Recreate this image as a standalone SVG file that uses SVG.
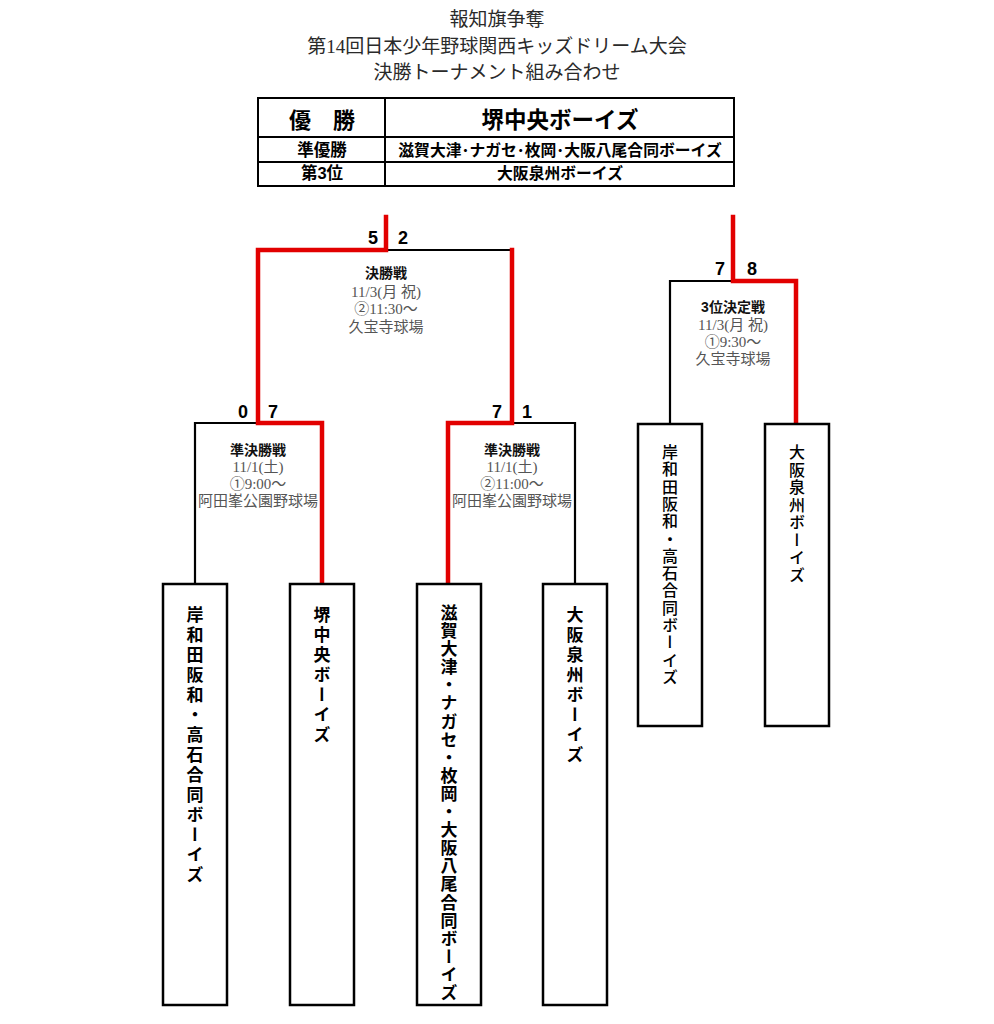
<svg xmlns="http://www.w3.org/2000/svg" width="994" height="1024" viewBox="0 0 994 1024">
<style>
.title{font-family:"Liberation Serif","Noto Sans CJK JP",serif;font-size:19px;fill:#2a2a2a;text-anchor:middle}
.tb{font-family:"Liberation Sans","Noto Sans CJK JP",sans-serif;font-weight:bold;fill:#000;text-anchor:middle}
.cell{fill:#fff;stroke:#000;stroke-width:2}
.lbl{font-family:"Liberation Sans","Noto Sans CJK JP",sans-serif;font-weight:bold;font-size:14px;fill:#111;text-anchor:middle}
.info{font-family:"Liberation Serif","Noto Sans CJK JP",serif;font-size:15px;fill:#555;text-anchor:middle}
.score{font-family:"Liberation Sans",sans-serif;font-weight:bold;font-size:18px;fill:#000;text-anchor:middle}
.blk{fill:none;stroke:#000;stroke-width:2.2}
.red{fill:none;stroke:#e20000;stroke-width:4.5;stroke-linejoin:miter;stroke-linecap:square}
.box{fill:#fff;stroke:#000;stroke-width:2.5}
.vt{font-family:"Noto Sans CJK JP",sans-serif;font-weight:bold;font-size:17px;fill:#000;writing-mode:vertical-rl}
.vt2{font-family:"Noto Sans CJK JP",sans-serif;font-weight:500;font-size:16px;fill:#000;writing-mode:vertical-rl}
</style>
<rect width="994" height="1024" fill="#fff"/>
<g id="title">
<text class="title" x="497" y="26">報知旗争奪</text>
<text class="title" x="497" y="53">第14回日本少年野球関西キッズドリーム大会</text>
<text class="title" x="497" y="79">決勝トーナメント組み合わせ</text>
</g>
<g id="results-table">
<rect class="cell" x="258" y="98" width="476" height="88"/>
<line class="cell" x1="385" y1="98" x2="385" y2="186"/>
<line class="cell" x1="258" y1="137" x2="734" y2="137"/>
<line class="cell" x1="258" y1="162" x2="734" y2="162"/>
<text class="tb" x="322" y="128" font-size="22">優　勝</text>
<text class="tb" x="560" y="128" font-size="22.5">堺中央ボーイズ</text>
<text class="tb" x="322" y="156" font-size="16.5">準優勝</text>
<text class="tb" x="560" y="156" font-size="15.8">滋賀大津･ナガセ･枚岡･大阪八尾合同ボーイズ</text>
<text class="tb" x="322" y="179" font-size="16.5">第3位</text>
<text class="tb" x="560" y="179" font-size="15.8">大阪泉州ボーイズ</text>
</g>
<g id="connectors">
<path class="blk" d="M386,250 H512"/>
<path class="blk" d="M258,423 H195 V584"/>
<path class="blk" d="M512,423 H575 V584"/>
<path class="blk" d="M733,281 H670 V424"/>
<path class="red" d="M386,217 V250 H258 V423 H322 V584"/>
<path class="red" d="M512,250 V423 H448 V584"/>
<path class="red" d="M733,217 V281 H796 V424"/>
</g>
<g id="final">
<text class="score" x="373" y="244">5</text>
<text class="score" x="403" y="244">2</text>
<text class="lbl" x="386" y="278">決勝戦</text>
<text class="info" x="386" y="297">11/3(月 祝)</text>
<text class="info" x="386" y="314">②11:30～</text>
<text class="info" x="386" y="332">久宝寺球場</text>
</g>
<g id="semifinal-1">
<text class="score" x="243" y="418">0</text>
<text class="score" x="273" y="418">7</text>
<text class="lbl" x="258" y="455">準決勝戦</text>
<text class="info" x="258" y="472">11/1(土)</text>
<text class="info" x="258" y="489">①9:00～</text>
<text class="info" x="258" y="506" font-size="14">阿田峯公園野球場</text>
</g>
<g id="semifinal-2">
<text class="score" x="497" y="418">7</text>
<text class="score" x="527" y="418">1</text>
<text class="lbl" x="512" y="455">準決勝戦</text>
<text class="info" x="512" y="472">11/1(土)</text>
<text class="info" x="512" y="489">②11:00～</text>
<text class="info" x="512" y="506" font-size="14">阿田峯公園野球場</text>
</g>
<g id="third-place">
<text class="score" x="720" y="275">7</text>
<text class="score" x="752" y="275">8</text>
<text class="lbl" x="733" y="312">3位決定戦</text>
<text class="info" x="733" y="330">11/3(月 祝)</text>
<text class="info" x="733" y="347">①9:30～</text>
<text class="info" x="733" y="364">久宝寺球場</text>
</g>
<g id="team-kishiwada">
<rect class="box" x="163" y="584" width="64" height="421"/>
<text class="vt" x="195" y="606" letter-spacing="3">岸和田阪和・高石合同ボーイズ</text>
</g>
<g id="team-sakai-chuo">
<rect class="box" x="290" y="584" width="64" height="421"/>
<text class="vt" x="322" y="606" letter-spacing="3">堺中央ボーイズ</text>
</g>
<g id="team-shiga">
<rect class="box" x="417" y="584" width="64" height="421"/>
<text class="vt" x="449" y="604" letter-spacing="1.1">滋賀大津・ナガセ・枚岡・大阪八尾合同ボーイズ</text>
</g>
<g id="team-osaka-senshu">
<rect class="box" x="543" y="584" width="64" height="421"/>
<text class="vt" x="575" y="606" letter-spacing="3">大阪泉州ボーイズ</text>
</g>
<g id="team-kishiwada-3rd">
<rect class="box" x="638" y="424" width="64" height="302"/>
<text class="vt2" x="670" y="444" letter-spacing="1.3">岸和田阪和・高石合同ボーイズ</text>
</g>
<g id="team-osaka-senshu-3rd">
<rect class="box" x="765" y="424" width="64" height="302"/>
<text class="vt2" x="797" y="444" letter-spacing="1.5">大阪泉州ボーイズ</text>
</g>
</svg>
